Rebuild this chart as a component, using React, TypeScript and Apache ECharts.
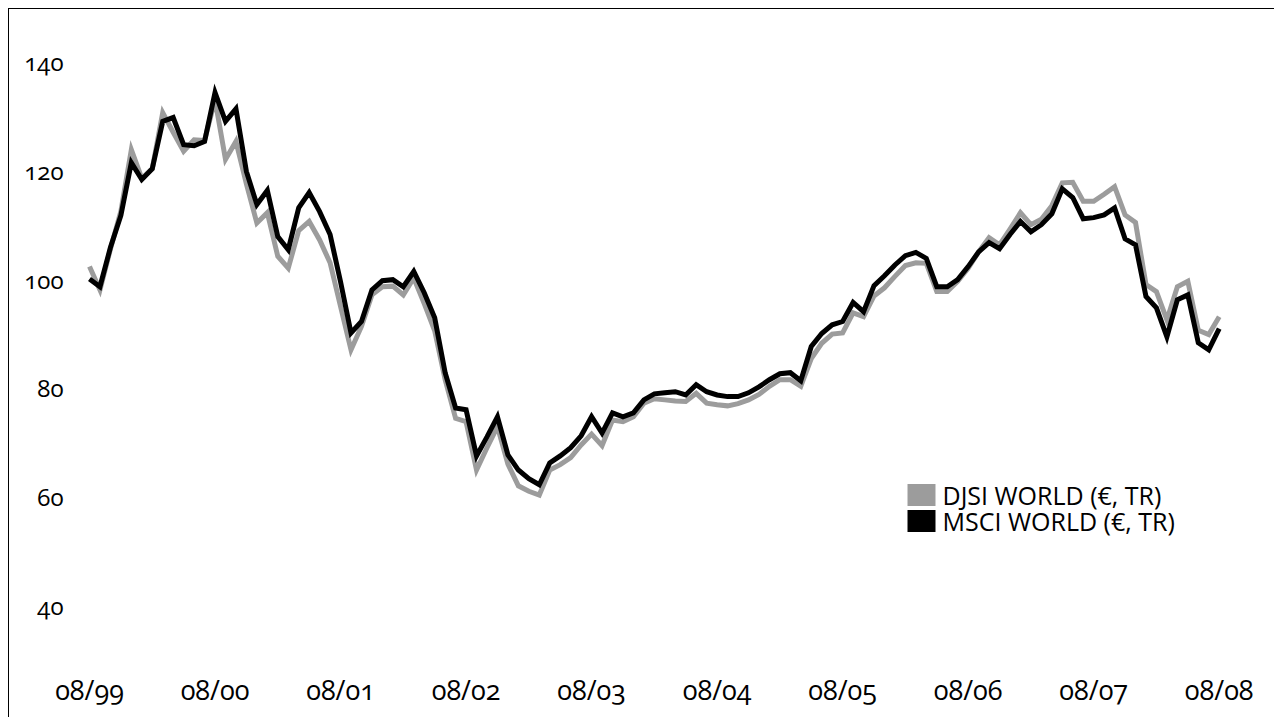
import React, { useEffect, useRef } from "react";
import * as echarts from "echarts";

// Monthly categories 08/99 .. 08/08
const START_YEAR = 1999;
const START_MONTH = 8;
const MONTH_COUNT = 109;
const months: string[] = Array.from({ length: MONTH_COUNT }, (_, i) => {
  const total = START_MONTH - 1 + i;
  const m = (total % 12) + 1;
  const y = (START_YEAR + Math.floor(total / 12)) % 100;
  return `${String(m).padStart(2, "0")}/${String(y).padStart(2, "0")}`;
});

const yTicks = [40, 60, 80, 100, 120, 140];

const djsiName = "DJSI WORLD (€, TR)";
const msciName = "MSCI WORLD (€, TR)";

const djsiValues = [
  102.3, 98.0, 105.5, 112.5, 123.8, 118.5, 120.3, 130.6, 127.0, 123.5,
  125.6, 125.5, 133.0, 122.0, 125.3, 117.5, 110.3, 112.2, 104.2, 102.0,
  108.9, 110.6, 107.2, 103.0, 95.0, 87.0, 91.3, 97.1, 98.6, 98.7,
  97.1, 100.2, 95.5, 90.5, 81.5, 74.4, 73.8, 64.9, 69.0, 72.9,
  66.0, 62.0, 61.0, 60.3, 64.9, 65.9, 67.2, 69.5, 71.5, 69.4,
  74.1, 73.8, 74.7, 77.2, 78.0, 77.8, 77.6, 77.5, 79.0, 77.2,
  76.9, 76.7, 77.1, 77.8, 78.8, 80.3, 81.5, 81.5, 80.3, 85.4,
  88.2, 89.9, 90.1, 93.8, 93.1, 96.9, 98.4, 100.5, 102.5, 103.0,
  102.9, 97.7, 97.7, 99.6, 102.0, 105.0, 107.6, 106.3, 109.2, 112.2,
  110.0, 111.0, 113.5, 117.7, 117.8, 114.3, 114.3, 115.6, 117.0, 111.8,
  110.4, 99.0, 97.7, 92.5, 98.6, 99.6, 90.6, 89.8, 93.1,
];

const msciValues = [
  100.0, 98.6, 105.8, 111.7, 121.4, 118.3, 120.3, 129.0, 129.7, 124.7,
  124.5, 125.3, 134.3, 129.0, 131.3, 119.8, 113.7, 116.3, 107.8, 105.4,
  113.1, 115.9, 112.4, 108.2, 99.5, 90.1, 92.2, 98.0, 99.7, 99.9,
  98.6, 101.4, 97.5, 92.9, 82.8, 76.3, 76.0, 67.5, 71.0, 74.7,
  67.7, 64.9, 63.3, 62.2, 66.2, 67.5, 69.0, 71.2, 74.7, 71.7,
  75.4, 74.7, 75.4, 77.8, 78.9, 79.1, 79.3, 78.7, 80.6, 79.3,
  78.7, 78.4, 78.4, 79.1, 80.2, 81.5, 82.6, 82.8, 81.3, 87.6,
  90.0, 91.6, 92.2, 95.7, 94.0, 98.8, 100.6, 102.6, 104.3, 104.9,
  103.8, 98.6, 98.6, 99.9, 102.3, 105.0, 106.7, 105.6, 108.2, 110.6,
  108.7, 110.0, 112.0, 116.6, 115.0, 111.1, 111.3, 111.8, 113.1, 107.4,
  106.3, 96.8, 94.7, 89.4, 96.2, 97.1, 88.3, 87.0, 90.9,
];

const FONT = "'Open Sans', 'DejaVu Sans', sans-serif";
const GRAY = "#9c9c9c";
const BLACK = "#000000";

const CHART_W = 1266;
const CHART_H = 727;

export default function App() {
  const ref = useRef<HTMLDivElement>(null);

  useEffect(() => {
    if (!ref.current) return;
    const chart = echarts.init(ref.current, undefined, { renderer: "svg" });
    chart.setOption({
      animation: false,
      backgroundColor: "#ffffff",
      grid: { left: 80.5, right: CHART_W - 1210.2, top: 52.5, bottom: CHART_H - 596.5 },
      legend: {
        orient: "vertical",
        left: 893.5,
        top: 468,
        icon: "rect",
        itemWidth: 28,
        itemHeight: 22,
        itemGap: 0,
        data: [djsiName, msciName],
        textStyle: {
          fontFamily: FONT,
          fontSize: 25,
          lineHeight: 26,
          color: "#000",
          padding: [0, 0, 0, 2],
        },
      },
      xAxis: {
        type: "category",
        boundaryGap: false,
        data: months,
        axisLine: { show: false },
        axisTick: { show: false },
        splitLine: { show: false },
        axisLabel: {
          interval: 11,
          margin: 70,
          fontFamily: FONT,
          fontSize: 27,
          color: "#000",
        },
      },
      yAxis: {
        type: "value",
        min: yTicks[0],
        max: yTicks[yTicks.length - 1],
        interval: 20,
        axisLine: { show: false },
        axisTick: { show: false },
        splitLine: { show: false },
        axisLabel: {
          margin: 26,
          fontFamily: FONT,
          fontSize: 24,
          color: "#000",
        },
      },
      series: [
        {
          name: djsiName,
          type: "line",
          data: djsiValues,
          symbol: "none",
          lineStyle: { color: GRAY, width: 5, join: "miter" },
          itemStyle: { color: GRAY },
          z: 2,
        },
        {
          name: msciName,
          type: "line",
          data: msciValues,
          symbol: "none",
          lineStyle: { color: BLACK, width: 5, join: "miter" },
          itemStyle: { color: BLACK },
          z: 3,
        },
      ],
    });
    return () => chart.dispose();
  }, []);

  return (
    <div
      style={{
        width: 1269,
        height: 730,
        border: "1.5px solid #000",
        boxSizing: "border-box",
        position: "relative",
        background: "#fff",
      }}
    >
      <style>
        {"#djsi-chart text{font-variant-numeric:oldstyle-nums !important;font-feature-settings:'onum' 1 !important;}"}
      </style>
      <div
        id="djsi-chart"
        ref={ref}
        style={{ position: "absolute", left: 0, top: 0, width: CHART_W, height: CHART_H }}
      />
    </div>
  );
}
